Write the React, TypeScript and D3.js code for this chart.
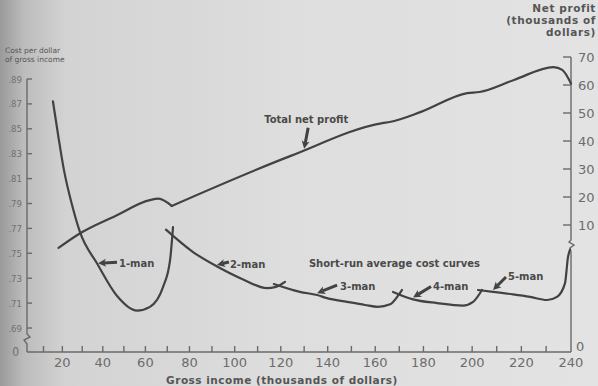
import React from 'react'
import * as d3 from 'd3'

const W = 598
const H = 386

// gross income, thousands of dollars
const incomeTicks = d3.range(10, 240, 10)
const incomeLabels = [20, 40, 60, 80, 100, 120, 140, 160, 180, 200, 220, 240]
// cost per dollar of gross income
const costTicks = [0.69, 0.71, 0.73, 0.75, 0.77, 0.79, 0.81, 0.83, 0.85, 0.87, 0.89]
// net profit, thousands of dollars
const profitTicks = [10, 20, 30, 40, 50, 60, 70]

const profitIncome = [18, 28, 46, 62, 66, 72, 124, 163, 166, 179, 198, 203, 217, 233, 236.5, 240]
const profitValue = [1.8, 6.6, 13.2, 18.9, 19.4, 16.8, 34.6, 46.4, 46.8, 50.4, 57.1, 57.5, 61.8, 66.4, 65.4, 60.5]
// the profit line has a sharp dip where the second man is hired
const profitDip = 72

const oneManIncome = [15.1, 17.8, 20.8, 24.9, 28.9, 37.2, 46.8, 56.1, 62.1, 68.1, 71.3, 72.6]
const oneManCost = [0.872, 0.845, 0.817, 0.789, 0.767, 0.742, 0.7157, 0.704, 0.707, 0.723, 0.745, 0.771]

const twoManIncome = [69.4, 81.6, 92.7, 103.7, 114.0, 117.9, 121.8]
const twoManCost = [0.769, 0.751, 0.739, 0.729, 0.722, 0.723, 0.727]

const threeManIncome = [117, 128.2, 135.5, 139.7, 148.2, 155.7, 161.1, 166.2, 169.5, 171.1]
const threeManCost = [0.7253, 0.719, 0.7165, 0.714, 0.711, 0.7085, 0.707, 0.709, 0.716, 0.7205]

const fourManIncome = [167.4, 175.7, 185.6, 196.2, 200.4, 204.0]
const fourManCost = [0.719, 0.713, 0.71, 0.708, 0.711, 0.7205]

const fiveManIncome = [202.4, 208.5, 216.6, 223.5, 230.4, 234.4, 237.6, 238.8, 239.6]
const fiveManCost = [0.7205, 0.719, 0.717, 0.715, 0.7125, 0.715, 0.726, 0.747, 0.753]

const costSeries = [
  [oneManIncome, oneManCost],
  [twoManIncome, twoManCost],
  [threeManIncome, threeManCost],
  [fourManIncome, fourManCost],
  [fiveManIncome, fiveManCost],
]

// labels with arrows: head in data units, tail / text offsets in px
const notes = [
  { text: 'Total net profit', axis: 'profit', head: [130, 37.2], tail: [4, -21], label: [-40, -26] },
  { text: '1-man', axis: 'cost', head: [37.7, 0.742], tail: [19, -1], label: [21, 4] },
  { text: '2-man', axis: 'cost', head: [92.2, 0.7406], tail: [12, -3], label: [13, 3] },
  { text: '3-man', axis: 'cost', head: [135.5, 0.718], tail: [20, -8], label: [23, -3] },
  { text: '4-man', axis: 'cost', head: [175.7, 0.7145], tail: [18, -11], label: [20, -7] },
  { text: '5-man', axis: 'cost', head: [208.5, 0.7205], tail: [13, -13], label: [15, -10] },
]

const INK = '#424242'
const AXIS = '#6a6a6a'
const FONT = "'DejaVu Sans', sans-serif"

const x = d3.scalePow().exponent(1.1).domain([0, 240]).range([27, 571])
const yCost = d3.scaleLinear().domain([0.69, 0.89]).range([328, 79])
const yProfit = d3.scaleLinear().domain([10, 70]).range([225, 57])
const BASE = 352

const costLine = d3.line<[number, number]>()
  .x(d => x(d[0]))
  .y(d => yCost(d[1]))
  .curve(d3.curveMonotoneX)

const profitLine = d3.line<[number, number]>()
  .x(d => x(d[0]))
  .y(d => yProfit(d[1]))
  .curve(d3.curveMonotoneX)

const Arrow = ({ hx, hy, tx, ty }) => {
  const a = Math.atan2(hy - ty, hx - tx)
  const len = 8
  const w = 4
  const bx = hx - len * Math.cos(a)
  const by = hy - len * Math.sin(a)
  const s = Math.sin(a)
  const c = Math.cos(a)
  const head = `M${hx},${hy}L${bx + w * s},${by - w * c}L${bx + 2 * c},${by + 2 * s}L${bx - w * s},${by + w * c}Z`
  return (
    <g>
      <line x1={tx} y1={ty} x2={bx + 2 * c} y2={by + 2 * s} stroke={INK} strokeWidth={3} />
      <path d={head} fill={INK} />
    </g>
  )
}

const App = () => {
  const leftBreak = yCost(0.69) + 12
  const rightBreak = yProfit(2.5)
  const right = x(240)
  const left = x(0)

  const profit = d3.zip(profitIncome, profitValue) as [number, number][]
  const profitParts = [
    profit.filter(d => d[0] <= profitDip),
    profit.filter(d => d[0] >= profitDip),
  ]

  return (
    <svg width={W} height={H} style={{ position: 'absolute', left: 0, top: 0 }}>
      <defs>
        <linearGradient id="paper" x1="0" x2="1" y1="0" y2="0">
          <stop offset="0" stopColor="#9a9a9a" />
          <stop offset="0.04" stopColor="#bcbcbc" />
          <stop offset="0.11" stopColor="#d3d3d3" />
          <stop offset="0.5" stopColor="#dedede" />
          <stop offset="1" stopColor="#e3e3e3" />
        </linearGradient>
      </defs>
      <rect width={W} height={H} fill="url(#paper)" />

      {/* titles */}
      <g fontFamily={FONT} fill="#555">
        <text x={5} y={53} fontSize={7.5}>Cost per dollar</text>
        <text x={5} y={62} fontSize={7.5}>of gross income</text>
        <g textAnchor="end" fontSize={10.5} fontWeight="bold" letterSpacing={0.6}>
          <text x={596} y={12}>Net profit</text>
          <text x={596} y={24}>(thousands of</text>
          <text x={596} y={36}>dollars)</text>
        </g>
        <text x={282} y={384} fontSize={10.5} fontWeight="bold" textAnchor="middle" letterSpacing={0.5}>
          Gross income (thousands of dollars)
        </text>
      </g>

      {/* x axis */}
      <g stroke={AXIS} strokeWidth={1.4}>
        <line x1={left} x2={right} y1={BASE} y2={BASE} />
        {incomeTicks.map(t => (
          <line key={t} x1={x(t)} x2={x(t)} y1={BASE} y2={BASE - 6} />
        ))}
      </g>
      <g fontFamily={FONT} fontSize={13} fill="#6c6c6c" textAnchor="middle">
        {incomeLabels.map(t => (
          <text key={t} x={x(t)} y={BASE + 15}>{t}</text>
        ))}
      </g>

      {/* left axis */}
      <g stroke={AXIS} strokeWidth={1.4} fill="none">
        <path d={`M${left},${BASE}V${leftBreak + 4}L${left - 3},${leftBreak}L${left + 3},${leftBreak - 3}L${left},${leftBreak - 6}V${yCost(0.89)}`} />
        {costTicks.map(t => (
          <line key={t} x1={left} x2={left + 5} y1={yCost(t)} y2={yCost(t)} />
        ))}
      </g>
      <g fontFamily="'DejaVu Sans Condensed', 'DejaVu Sans', sans-serif" fontSize={9.5} fill="#707070" textAnchor="end">
        {costTicks.map(t => (
          <text key={t} x={left - 5} y={yCost(t) + 3.5}>{d3.format('.2f')(t).slice(1)}</text>
        ))}
        <text x={left - 8} y={BASE + 4} fontSize={12}>0</text>
      </g>

      {/* right axis */}
      <g stroke={AXIS} strokeWidth={1.4} fill="none">
        <path d={`M${right},${BASE}V${rightBreak + 6}L${right - 1},${rightBreak + 2}L${right + 3},${rightBreak - 1}L${right - 2},${rightBreak - 4}L${right},${rightBreak - 6}V${yProfit(70)}`} />
        {profitTicks.map(t => (
          <line key={t} x1={right} x2={right - 8} y1={yProfit(t)} y2={yProfit(t)} />
        ))}
      </g>
      <g fontFamily={FONT} fontSize={13} fill="#6c6c6c">
        {profitTicks.map(t => (
          <text key={t} x={right + 7} y={yProfit(t) + 5}>{t}</text>
        ))}
        <text x={right + 5} y={BASE - 1}>0</text>
      </g>

      {/* curves */}
      <g fill="none" stroke={INK} strokeWidth={2.2} strokeLinejoin="round" strokeLinecap="round">
        {profitParts.map((part, i) => (
          <path key={`p${i}`} d={profitLine(part)} />
        ))}
        {costSeries.map(([xs, ys], i) => (
          <path key={i} d={costLine(d3.zip(xs, ys) as [number, number][])} />
        ))}
      </g>

      {/* annotations */}
      <g fontFamily={FONT} fontSize={10} fontWeight="bold" fill="#4a4a4a">
        {notes.map(n => {
          const hx = x(n.head[0])
          const hy = n.axis === 'profit' ? yProfit(n.head[1]) : yCost(n.head[1])
          return (
            <g key={n.text}>
              <Arrow hx={hx} hy={hy} tx={hx + n.tail[0]} ty={hy + n.tail[1]} />
              <text x={hx + n.label[0]} y={hy + n.label[1]}>{n.text}</text>
            </g>
          )
        })}
        <text x={x(168)} y={yCost(0.739)} textAnchor="middle">Short-run average cost curves</text>
      </g>
    </svg>
  )
}

export default App
